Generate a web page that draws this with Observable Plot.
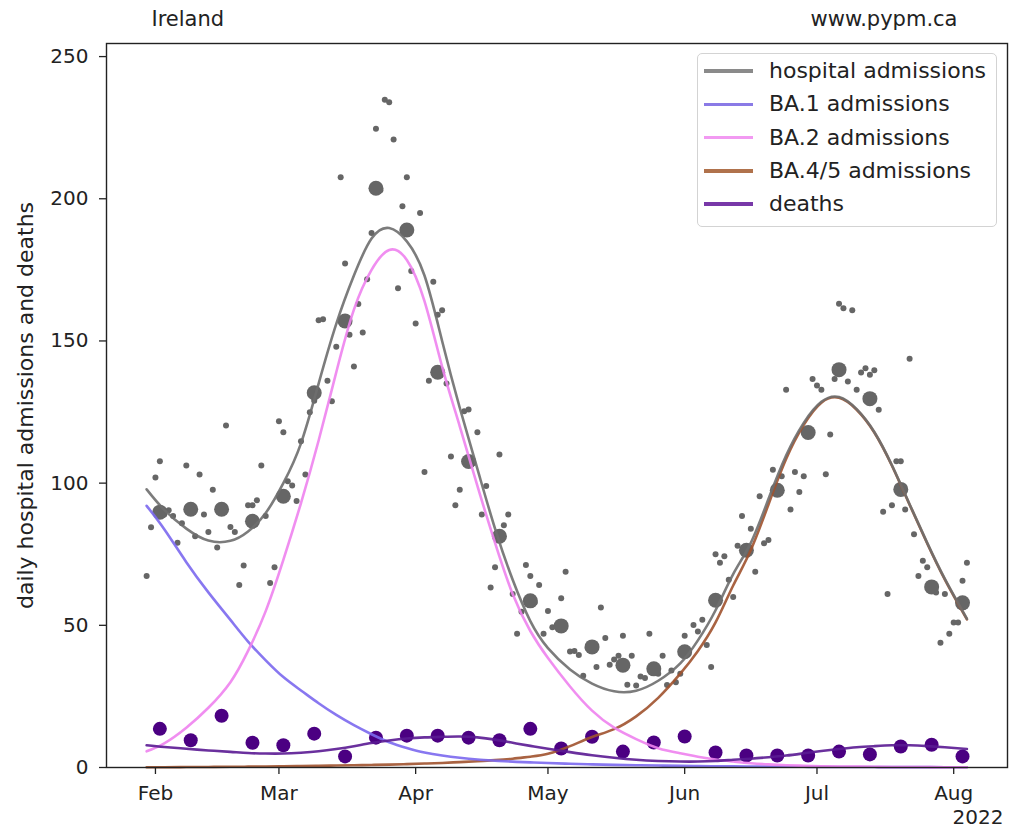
<!DOCTYPE html>
<html>
<head>
<meta charset="utf-8">
<script src="https://cdn.jsdelivr.net/npm/d3@7"></script>
<script src="https://cdn.jsdelivr.net/npm/@observablehq/plot@0.6"></script>
<style>
  body { margin: 0; background: #fff; }
  #wrap { position: relative; width: 1009px; height: 833px; font-family: "DejaVu Sans", sans-serif; }
  #wrap svg { display: block; }
  #legend { position: absolute; left: 697px; top: 53px; width: 300px; height: 174px; box-sizing: border-box;
            border: 1px solid #d3d3d3; border-radius: 5px; background: rgba(255,255,255,0.8); }
  .sw { position: absolute; left: 6px; width: 49px; height: 3.5px; }
  .lab { position: absolute; left: 71px; font-size: 22px; color: #222; white-space: nowrap; line-height: 30px; }
</style>
</head>
<body>
<div id="wrap"><div id="legend"></div></div>
<script>
// ---- sampled model curves ----
const curveDates = ["2022-01-30","2022-02-03","2022-02-08","2022-02-13","2022-02-18","2022-02-22","2022-02-26",
  "2022-03-02","2022-03-06","2022-03-10","2022-03-14","2022-03-18","2022-03-22","2022-03-26","2022-03-30",
  "2022-04-03","2022-04-07","2022-04-11","2022-04-15","2022-04-19","2022-04-23","2022-04-27",
  "2022-05-01","2022-05-06","2022-05-11","2022-05-16","2022-05-21","2022-05-26","2022-05-31",
  "2022-06-04","2022-06-08","2022-06-12","2022-06-16","2022-06-20","2022-06-24","2022-06-28",
  "2022-07-02","2022-07-06","2022-07-10","2022-07-14","2022-07-18","2022-07-22","2022-07-26","2022-07-30","2022-08-04"];
const hospitalFit = [97.8,90.6,84,79.8,79.7,83,89.5,100,114,135,156,173,186,189.7,185,173,150,126.5,105,84,66,51.5,
  42,34.5,29.5,26.8,27,30.5,36.6,44.7,55.3,68,79,94.4,109.7,121.2,128.6,130.3,126,118,106.3,92.6,79,66.3,52.3];
const ba1Fit = [92,83.8,72.2,61.6,51.9,44.3,37.7,31.8,27.1,22.6,18.5,14.9,11.7,8.9,6.9,5.3,4.2,3.4,2.8,2.4,2.05,1.8,
  1.57,1.3,1.1,0.93,0.8,0.68,0.58,0.5,0.44,0.39,0.34,0.3,0.27,0.24,0.21,0.19,0.17,0.15,0.14,0.13,0.12,0.11,0.1];
const ba2Fit = [5.7,8.5,14,21,30,41,55,73,93,115,139,161,175,182,178.5,164,141,120,99,79,61,48,
  38.5,28.5,20,14,10,6.8,5,3.8,2.8,2.1,1.5,1.1,0.8,0.6,0.45,0.35,0.3,0.25,0.2,0.2,0.15,0.1,0.1];
const ba45Fit = [0.1,0.1,0.15,0.2,0.25,0.3,0.35,0.4,0.5,0.6,0.7,0.8,0.9,1.0,1.2,1.4,1.6,1.9,2.2,2.6,3.1,3.8,
  4.8,7.5,10.7,13.5,18,24.5,33,41,51,64,76.5,92.5,108.5,120.5,128.3,130,125.8,117.8,106.1,92.4,78.8,66.1,52.1];
const deathsFit = [7.8,7.2,6.6,6.0,5.5,5.1,4.9,4.9,5.2,5.7,6.5,7.5,8.6,9.5,10.2,10.6,10.8,10.9,10.6,9.8,8.7,7.6,
  6.6,5.4,4.3,3.4,2.7,2.3,2.1,2.1,2.3,2.7,3.1,3.6,4.2,5.0,5.8,6.5,7.1,7.5,7.8,7.8,7.5,7.1,6.5];

// ---- daily hospital admissions (from 2022-01-30, one per day) ----
const dailyStart = "2022-01-30";
const dailyAdmissions = [67.3,84.5,102,107.7,89,90.5,88.4,79,85.9,106.2,91,81.3,103,89,82.8,97.7,77.4,90,120.3,84.6,
  82.8,64.2,71,92.2,92.2,94,106.2,88.4,64.9,70.4,121.8,117.9,100.7,99.2,93.7,114.7,103,124.9,129,157.3,
  157.6,136,128.8,148,207.6,177.2,152.2,141,163,153,171.7,188,224.6,203,234.8,233.9,220.8,168.5,197.4,207.6,
  174.6,156.1,195,103.9,136,170.8,159.2,160.8,135,109.4,92.2,97.7,125.3,125.9,107,117.9,89,99,63.3,70.4,
  110.1,85.2,89,61,47,54.8,71.2,67.3,58,64.2,47,55,49.3,50,59.5,68.8,40.8,41,39.6,32.3,
  42,42,35.3,56.3,45.5,36.1,38,39.3,46.3,29.1,39.3,28.8,32,31.5,47,35,33,39.3,29,34.1,
  30,33,46.3,41,50.1,47.8,52,43.1,35.3,75,72,74.3,66,60,78,88.4,76,84,68.8,95.4,
  78.9,80,104.7,97,102.4,132.8,90.7,103.9,96.9,102.4,118,136.6,134.3,132.8,103.1,117.1,136.6,163.1,161.5,135.7,
  160.8,132.8,138.9,140.4,138.1,139.7,125.8,89.9,61,92.2,107.7,107.7,90.7,143.7,82,67.3,72.7,70.4,64,61.5,
  43.9,61,47,51,51,65.7,72];

// ---- weekly averages (from 2022-02-02, one per week) ----
const weeklyStart = "2022-02-02";
const weeklyAdmissions = [89.8,90.8,90.8,86.6,95.4,131.8,157,203.7,189,139,107.6,81.3,58.6,49.8,42.4,36,34.7,
  40.7,58.8,76.4,97.5,117.8,139.9,129.7,97.8,63.5,57.9];
const weeklyDeaths = [13.6,9.6,18.2,8.7,7.8,11.9,3.9,10.5,11.2,11.2,10.5,9.6,13.6,6.7,10.8,5.6,8.8,10.9,5.3,
  4.2,4.2,4.2,5.6,4.6,7.4,8,3.9];

// ---- axes / labels ----
const xTickDates = ["2022-02-01","2022-03-01","2022-04-01","2022-05-01","2022-06-01","2022-07-01","2022-08-01"];
const yTicks = [0, 50, 100, 150, 200, 250];
const seriesNames = ["hospital admissions","BA.1 admissions","BA.2 admissions","BA.4/5 admissions","deaths"];
const seriesColors = ["#6e6e6e","#7b68ee","#ee82ee","#a0522d","#5a1a92"];
const legendColors = ["#8a8a8a","#8a7ae6","#f29af2","#b0724c","#7838a8"];
const titleLeft = "Ireland";
const titleRight = "www.pypm.ca";
const yLabel = "daily hospital admissions and deaths";
const yearLabel = "2022";

const parse = d3.utcParse("%Y-%m-%d");
const cDates = curveDates.map(parse);
const fit = (vals) => vals.map((v, i) => ({date: cDates[i], value: v}));
const daily = dailyAdmissions.map((v, i) => ({date: d3.utcDay.offset(parse(dailyStart), i), value: v}));
const weekly = weeklyAdmissions.map((v, i) => ({date: d3.utcDay.offset(parse(weeklyStart), 7 * i), adm: v, deaths: weeklyDeaths[i]}));

const lineOpts = (c) => ({x: "date", y: "value", stroke: c, strokeWidth: 2.6, strokeOpacity: 0.9, curve: "natural"});

const chart = Plot.plot({
  width: 1009,
  height: 833,
  marginLeft: 106,
  marginRight: 2,
  marginTop: 43,
  marginBottom: 66,
  style: {fontFamily: "DejaVu Sans", fontSize: "20px", color: "#222", background: "#fff", overflow: "visible"},
  x: {type: "utc", domain: [new Date("2022-01-20T21:36Z"), new Date("2022-08-13T04:48Z")]},
  y: {domain: [0, 254.6]},
  marks: [
    Plot.dot(daily, {x: "date", y: "value", r: 3, fill: "#666", stroke: null}),
    Plot.dot(weekly, {x: "date", y: "adm", r: 7.5, fill: "#666", stroke: null}),
    Plot.dot(weekly, {x: "date", y: "deaths", r: 7, fill: "#4b0082", stroke: null}),
    Plot.line(fit(ba45Fit), lineOpts(seriesColors[3])),
    Plot.line(fit(hospitalFit), lineOpts(seriesColors[0])),
    Plot.line(fit(ba1Fit), lineOpts(seriesColors[1])),
    Plot.line(fit(ba2Fit), lineOpts(seriesColors[2])),
    Plot.line(fit(deathsFit), lineOpts(seriesColors[4])),
    Plot.frame({stroke: "#222", strokeWidth: 1.4}),
    Plot.axisY({ticks: yTicks, tickSize: 7, tickPadding: 11, fontSize: 20, label: null, color: "#222", strokeWidth: 1.3}),
    Plot.axisX({ticks: xTickDates.map(parse), tickFormat: d3.utcFormat("%b"), tickSize: 7, tickPadding: 11,
                fontSize: 20, label: null, color: "#222", strokeWidth: 1.3}),
    Plot.text([titleLeft], {text: d => d, frameAnchor: "top-left", dx: 45, dy: -32, textAnchor: "start", fontSize: 21, fill: "#222"}),
    Plot.text([titleRight], {text: d => d, frameAnchor: "top-right", dx: -50, dy: -32, textAnchor: "end", fontSize: 21, fill: "#222"}),
    Plot.text([yLabel], {text: d => d, frameAnchor: "left", dx: -81, rotate: -90, textAnchor: "middle", fontSize: 22, fill: "#222"}),
    Plot.text([yearLabel], {text: d => d, frameAnchor: "bottom-right", dx: -4, dy: 56, textAnchor: "end", fontSize: 20, fill: "#222"})
  ]
});
document.getElementById("wrap").insertBefore(chart, document.getElementById("legend"));

// ---- legend ----
const legend = document.getElementById("legend");
seriesNames.forEach((name, i) => {
  const cy = 18 + 33.3 * i;
  const sw = document.createElement("div");
  sw.className = "sw";
  sw.style.top = (cy - 1.75 - 1) + "px";
  sw.style.background = legendColors[i];
  legend.appendChild(sw);
  const lab = document.createElement("div");
  lab.className = "lab";
  lab.style.top = (cy - 15 - 1) + "px";
  lab.textContent = name;
  legend.appendChild(lab);
});
</script>
</body>
</html>
